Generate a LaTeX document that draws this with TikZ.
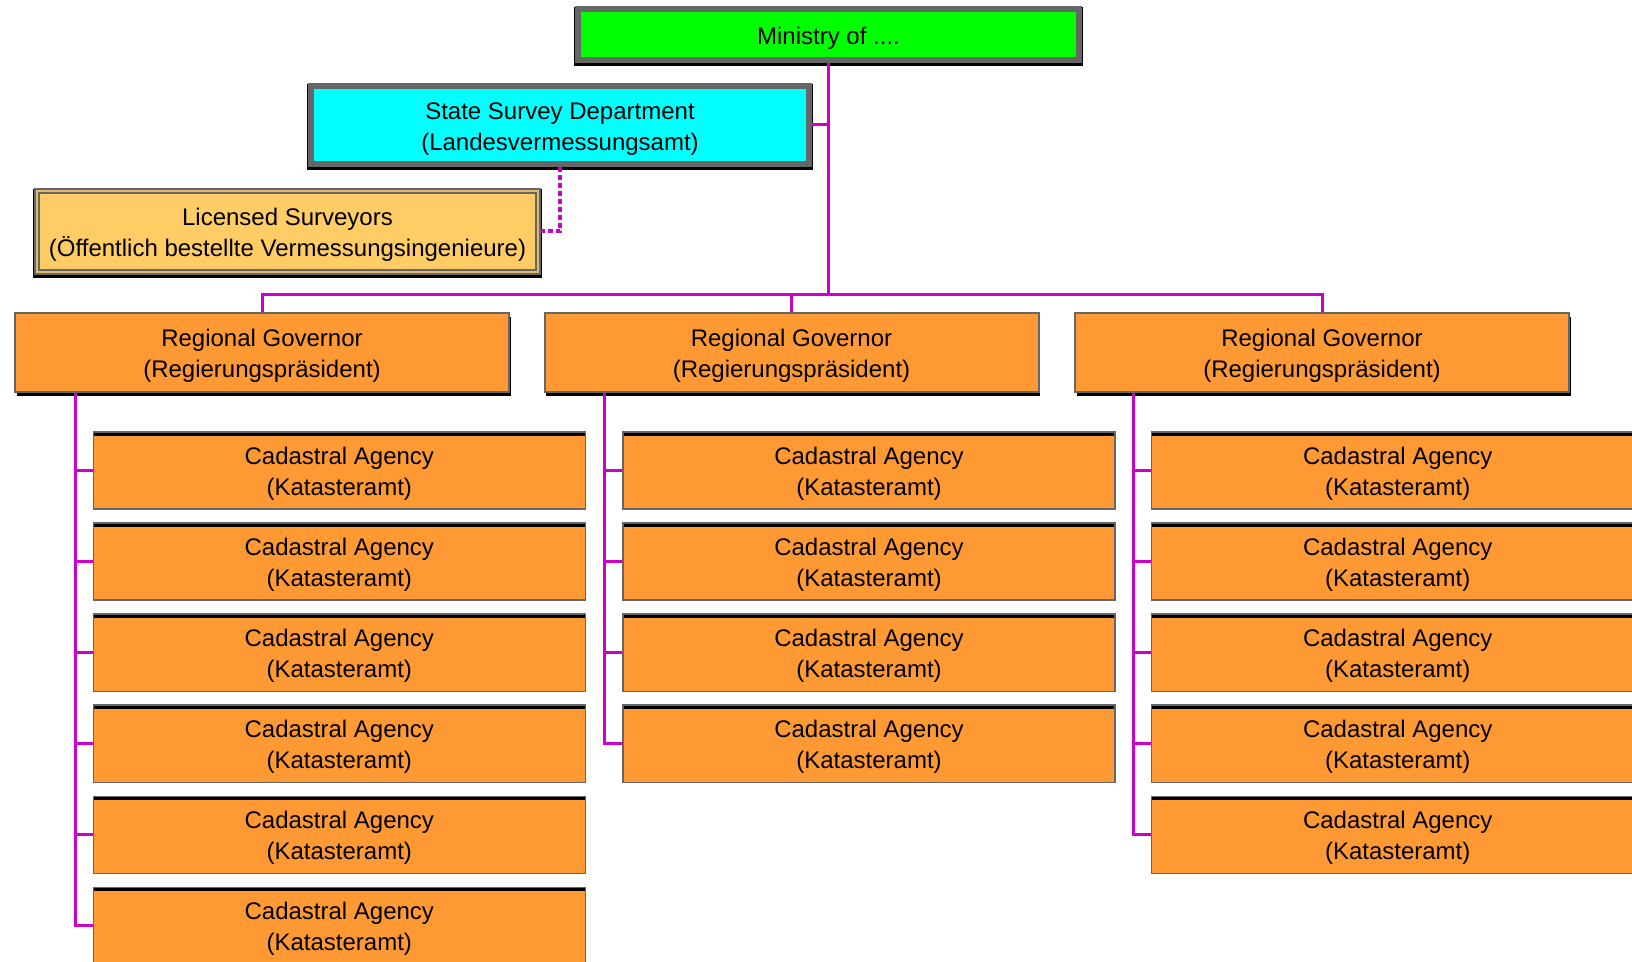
\documentclass[tikz,border=0pt]{standalone}
\usepackage{fontspec}
\setmainfont{Liberation Sans}
\usepackage{xcolor}
\usetikzlibrary{positioning, calc}
\definecolor{minigreen}{HTML}{00FF00}
\definecolor{surveycyan}{HTML}{00FFFF}
\definecolor{licbeige}{HTML}{FFCC66}
\definecolor{licstripe}{HTML}{E0B870}
\definecolor{officeorange}{HTML}{FF9933}
\definecolor{framegray}{HTML}{666666}
\definecolor{linkmag}{HTML}{CC00CC}

\tikzset{
  lowtext/.style={execute at begin node={\rule{0pt}{#1}}},
  lowtext/.default=27.5pt,
  headbox/.style={draw=framegray, line width=3pt, align=center, inner sep=0pt,
    preaction={draw=black, line width=4pt, transform canvas={yshift=-1pt}}},
  govbox/.style={fill=officeorange, draw=framegray, line width=1pt, align=center, inner sep=0pt,
    lowtext, minimum width=247pt, minimum height=39.5pt,
    preaction={fill=black, transform canvas={shift={(0.75pt,-2pt)}}}},
  agencybox/.style={fill=officeorange, draw=framegray, line width=0.7pt, align=center, inner sep=0pt,
    lowtext, minimum width=246pt, minimum height=38.6pt,
    path picture={\fill[black] (path picture bounding box.north west)
      rectangle ([yshift=-2pt]path picture bounding box.north east);}},
  link/.style={draw=linkmag, line width=1.5pt},
  permitlink/.style={link, line width=2pt, dash pattern=on 2.5pt off 1.5pt},
}

\begin{document}
\begin{tikzpicture}[x=0.5pt, y=-0.5pt, font=\fontsize{12}{15.5}\selectfont]
  \clip (0,0) rectangle (1632,962);

  % top of the hierarchy
  \node[headbox, lowtext=12pt, fill=minigreen, minimum width=250.5pt, minimum height=25.5pt]
    (ministry) at (828.5,34.5) {Ministry of ....};
  \node[headbox, lowtext, fill=surveycyan, minimum width=249pt, minimum height=39pt]
    (survey) at (560,125) {State Survey Department\\(Landesvermessungsamt)};
  \node[headbox, lowtext, fill=licbeige, minimum width=250.5pt, minimum height=40.5pt,
        postaction={draw=licstripe, line width=0.7pt}]
    (licensed) at (287.5,231.5) {Licensed Surveyors\\(Öffentlich bestellte Vermessungsingenieure)};

  % regional governors
  \node[govbox] (gov1) at (262,352.5) {Regional Governor\\(Regierungspräsident)};
  \node[govbox] (gov2) at (791.5,352.5) {Regional Governor\\(Regierungspräsident)};
  \node[govbox] (gov3) at (1322,352.5) {Regional Governor\\(Regierungspräsident)};

  % cadastral agencies
  \foreach \col/\x/\n in {1/339.3/6, 2/869/4, 3/1397.7/5}{
    \foreach \r in {1,...,\n}{
      \node[agencybox] (cad-\col-\r) at (\x,{470.4+91.1*(\r-1)})
        {Cadastral Agency\\(Katasteramt)};
      \draw[link] (cad-\col-\r.west) -- ++(-17.5,0);
    }
    \draw[link] ($(cad-\col-1.west |- gov\col.south)+(-17.5,0)$) |- (cad-\col-\n.west);
  }

  % links
  \coordinate (bus) at (0,294.5);
  \draw[link] (ministry.south) -- (ministry.south |- bus);
  \draw[link] (survey.east) -- (survey.east -| ministry.south);
  \draw[permitlink] (survey.south) |- (licensed.east);
  \draw[link] (gov1.north) |- (bus -| gov3.north) -- (gov3.north);
  \draw[link] (gov2.north) -- (gov2.north |- bus);
\end{tikzpicture}
\end{document}
